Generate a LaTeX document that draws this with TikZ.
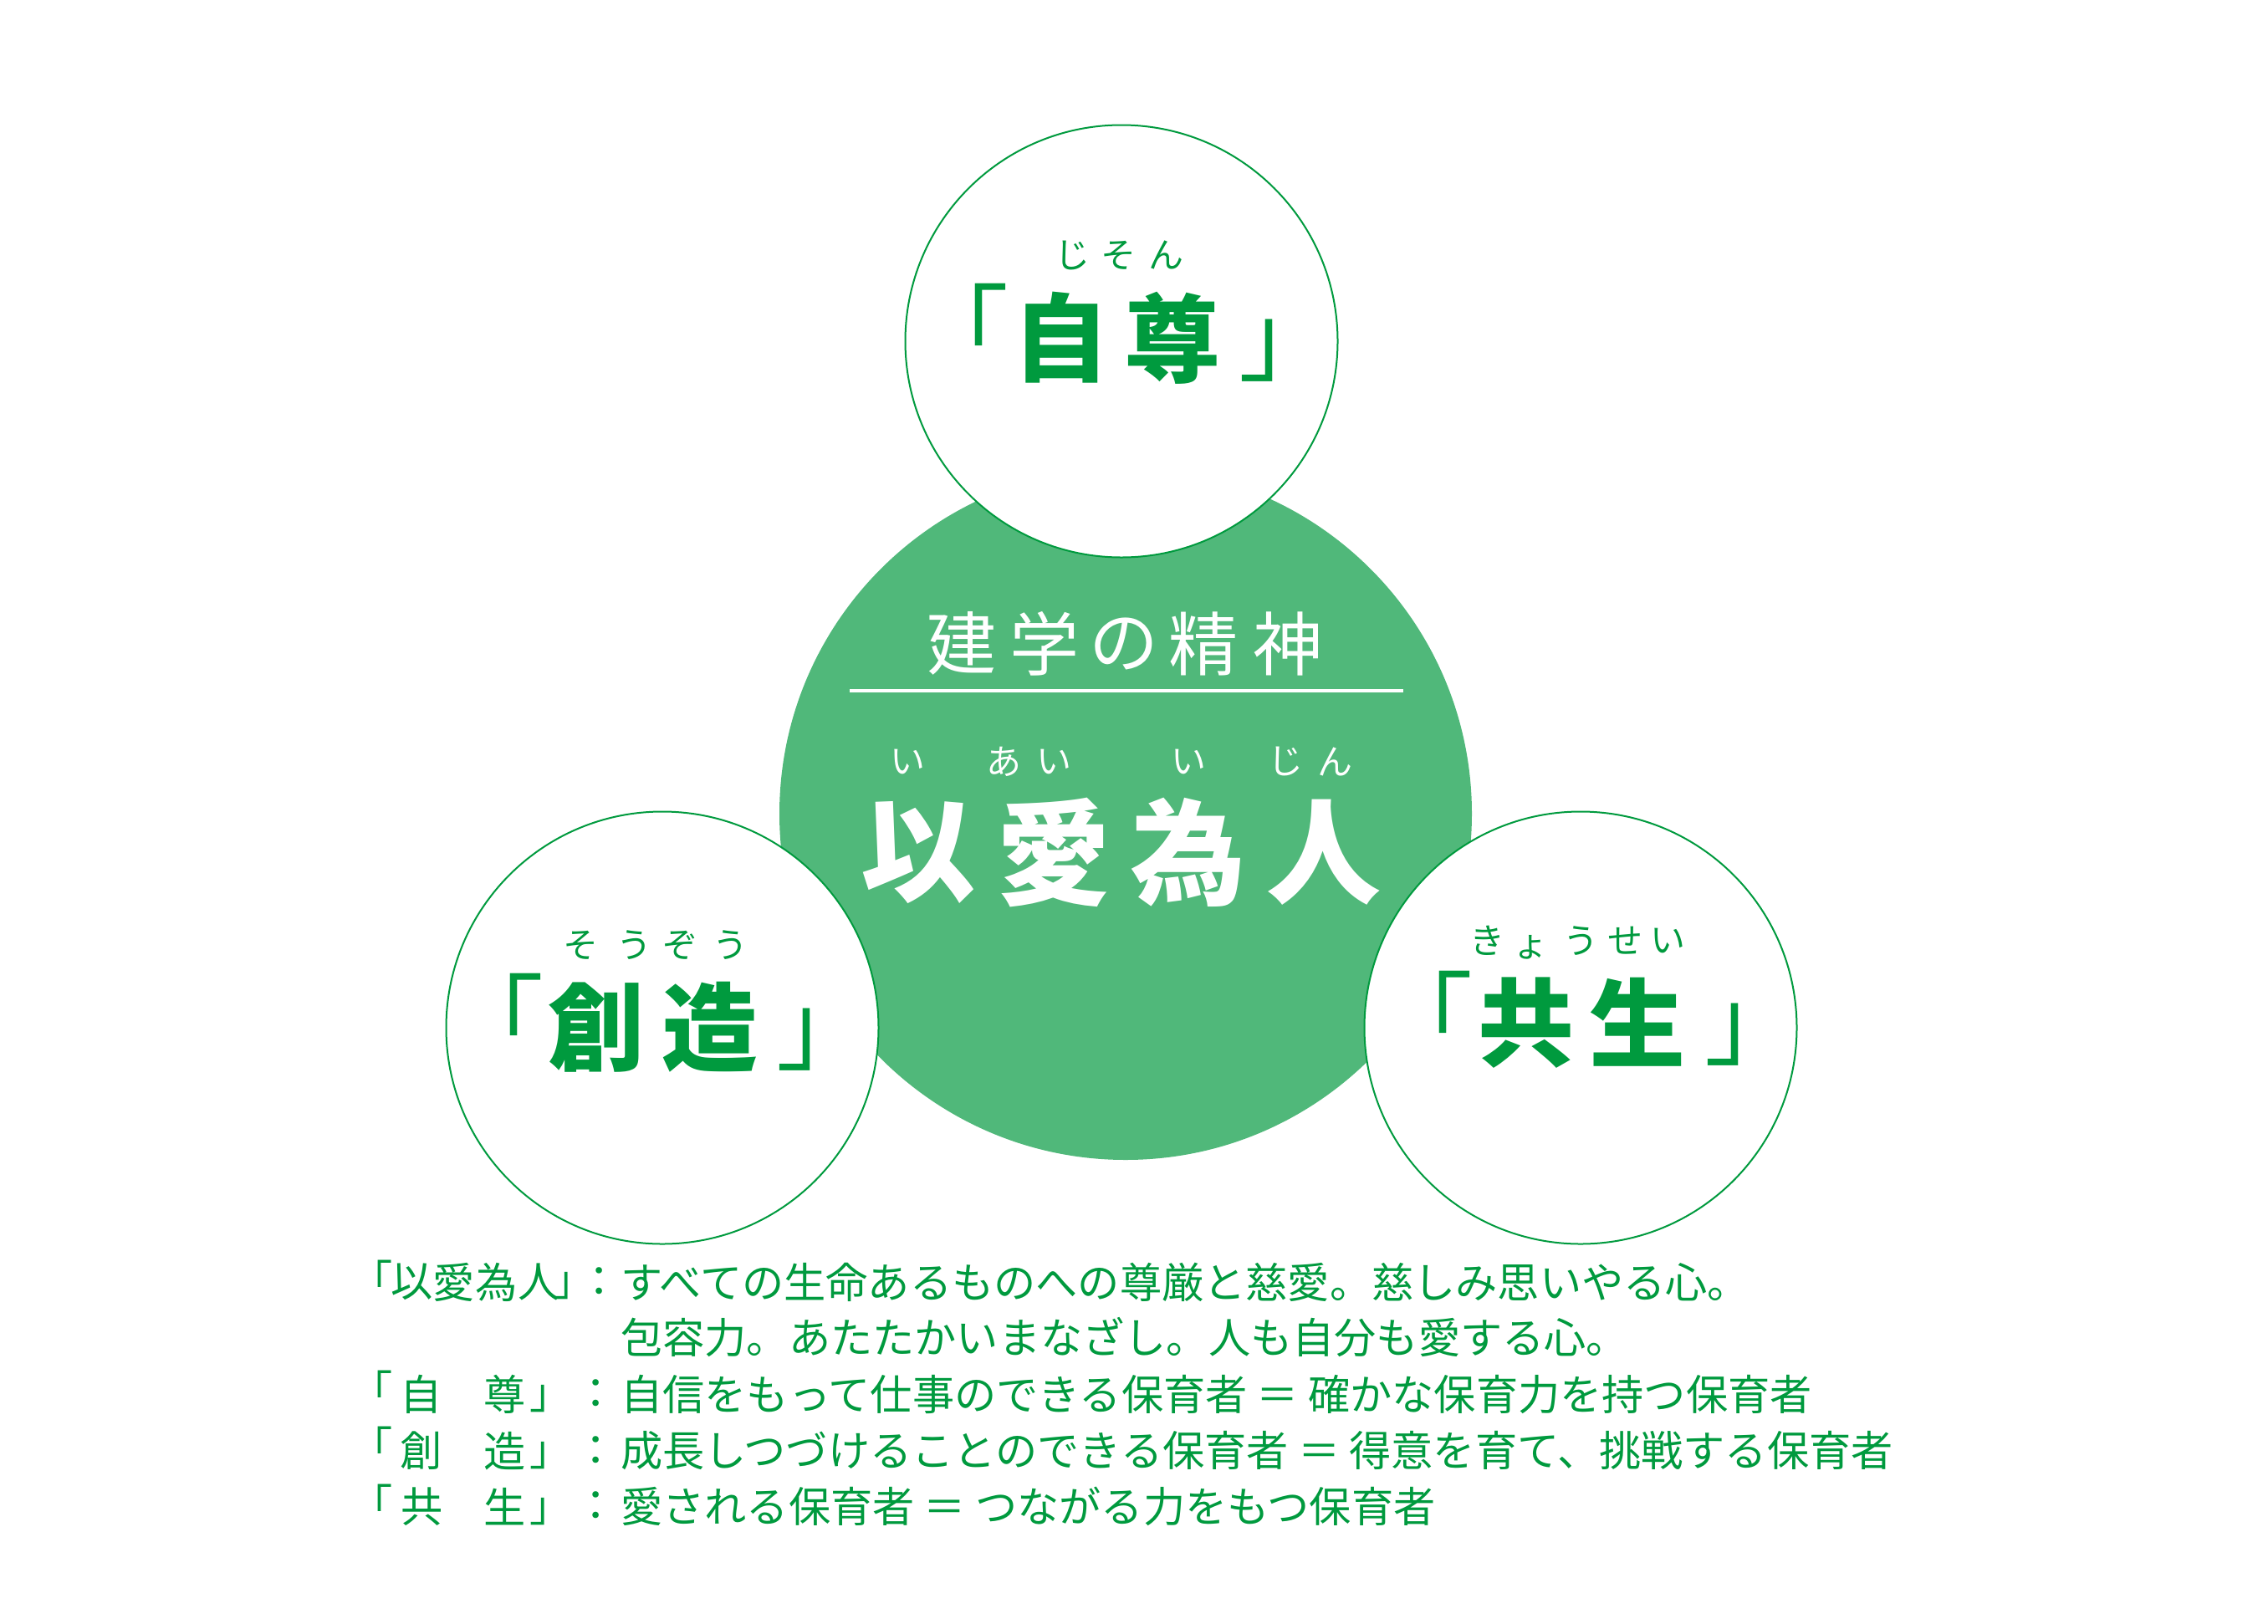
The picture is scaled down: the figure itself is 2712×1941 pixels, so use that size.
\documentclass[tikz,border=0pt]{standalone}
\usepackage{fontspec}
\newfontfamily\jp{Noto Sans CJK JP}
\definecolor{lg}{RGB}{80,184,122}
\definecolor{dg}{RGB}{0,154,62}
\tikzset{
 ring/.style={circle, draw=dg, line width=2pt, fill=white, minimum size=517pt, inner sep=0pt},
 hub/.style={circle, fill=lg, minimum size=828pt, inner sep=0pt},
 big/.style={inner sep=0pt, text=dg, font=\jp\bfseries\fontsize{115}{120}\selectfont},
 brk/.style={inner sep=0pt, text=dg, font=\jp\fontsize{115}{120}\selectfont},
 ruby/.style={inner sep=0pt, text=dg, font=\jp\fontsize{42}{45}\selectfont},
 wruby/.style={ruby, text=white},
 head/.style={inner sep=0pt, text=white, font=\jp\fontsize{83}{90}\selectfont},
 motto/.style={inner sep=0pt, text=white, font=\jp\bfseries\fontsize{137}{140}\selectfont},
 lab/.style={inner sep=0pt, text=dg, font=\jp\fontsize{50.2}{55}\selectfont},
 body/.style={lab, anchor=west},
}
\begin{document}
\begin{tikzpicture}[x=1pt,y=-1pt]
\useasboundingbox (0,0) rectangle (2712,1941);
% circles
\node[hub] (hub) at (1346,973) {};
\node[ring] (top) at (1341,408) {};
\node[ring] (left) at (792,1229) {};
\node[ring] (right) at (1890,1229) {};
% top circle
\node[ruby] (t1) at (1282,305) {じ};
\node[ruby] (t2) at (1337,305) {そ};
\node[ruby] (t3) at (1394,305) {ん};
\node[brk] (tb1) at (1149,388) {「};
\node[big] (tk1) at (1269,403.5) {自};
\node[big] (tk2) at (1402,404) {尊};
\node[brk] (tb2) at (1539,419.5) {」};
% left circle
\node[ruby] (l1) at (694,1130) {そ};
\node[ruby] (l2) at (758,1130) {う};
\node[ruby] (l3) at (813,1130) {ぞ};
\node[ruby] (l4) at (873,1130) {う};
\node[brk] (lb1) at (592.5,1212.5) {「};
\node[big] (lk1) at (713,1228.5) {創};
\node[big] (lk2) at (849,1228.5) {造};
\node[brk] (lb2) at (986,1243.5) {」};
% right circle
\node[ruby] (r1) at (1778,1125) {き};
\node[ruby] (r2) at (1830,1133) {ょ};
\node[ruby] (r3) at (1890,1125) {う};
\node[ruby] (r4) at (1943,1125) {せ};
\node[ruby] (r5) at (1994,1125) {い};
\node[brk] (rb1) at (1704,1209.5) {「};
\node[big] (rk1) at (1825,1223) {共};
\node[big] (rk2) at (1958,1222) {生};
\node[brk] (rb2) at (2095.5,1237.5) {」};
% hub text
\node[head] (h1) at (1149.7,769.5) {建};
\node[head] (h2) at (1248.6,769.5) {学};
\node[head] (h3) at (1344,769.5) {の};
\node[head] (h4) at (1438.5,769.5) {精};
\node[head] (h5) at (1540,769.5) {神};
\coordinate (ruleL) at (1016,825.5);
\coordinate (ruleR) at (1678,825.5);
\draw[white, line width=4pt] (ruleL) -- (ruleR);
\node[wruby] (m1) at (1085,910.5) {い};
\node[wruby] (m2) at (1200,910.5) {あ};
\node[wruby] (m3) at (1260,910.5) {い};
\node[wruby] (m4) at (1421,910.5) {い};
\node[wruby] (m5) at (1537,910.5) {じ};
\node[wruby] (m6) at (1596,910.5) {ん};
\node[motto] (k1) at (1098,1019.5) {以};
\node[motto] (k2) at (1260,1019.5) {愛};
\node[motto] (k3) at (1421,1019.5) {為};
\node[motto] (k4) at (1583,1019.5) {人};
% body line 1
\node[lab] (a0) at (444.6,1528) {「};
\node[lab] (a1) at (492.5,1533) {以};
\node[lab] (a2) at (542.5,1533) {愛};
\node[lab] (a3) at (594,1533) {為};
\node[lab] (a4) at (644.5,1533) {人};
\node[lab] (a5) at (687,1538) {」};
\node[lab] (a6) at (716.5,1533) {：};
\node[body] (at) at (742,1533) {すべての生命あるものへの尊厳と慈愛。慈しみ思いやる心。};
\node[body] (bt) at (742,1599) {包容力。あたたかいまなざし。人も自分も愛する心。};
% line 3
\node[lab] (c0) at (444.6,1660) {「};
\node[lab] (c1) at (504,1667) {自};
\node[lab] (c2) at (603.5,1667) {尊};
\node[lab] (c3) at (659,1673) {」};
\node[lab] (c4) at (712.5,1667) {：};
\node[body] (ct) at (742,1667) {自信をもって仕事のできる保育者 ＝ 確かな保育力を持つ保育者};
% line 4
\node[lab] (d0) at (444.6,1727.5) {「};
\node[lab] (d1) at (503.5,1735) {創};
\node[lab] (d2) at (603.5,1735) {造};
\node[lab] (d3) at (659,1741) {」};
\node[lab] (d4) at (712.5,1735) {：};
\node[body] (dt) at (742,1735) {成長しつづけることのできる保育者 ＝ 得意を育て、挑戦する保育者};
% line 5
\node[lab] (e0) at (444.6,1796) {「};
\node[lab] (e1) at (504.5,1801.5) {共};
\node[lab] (e2) at (603.5,1801.5) {生};
\node[lab] (e3) at (659,1808) {」};
\node[lab] (e4) at (712.5,1801.5) {：};
\node[body] (et) at (742,1801.5) {愛される保育者 ＝ つながる力をもつ保育者};
\end{tikzpicture}
\end{document}
